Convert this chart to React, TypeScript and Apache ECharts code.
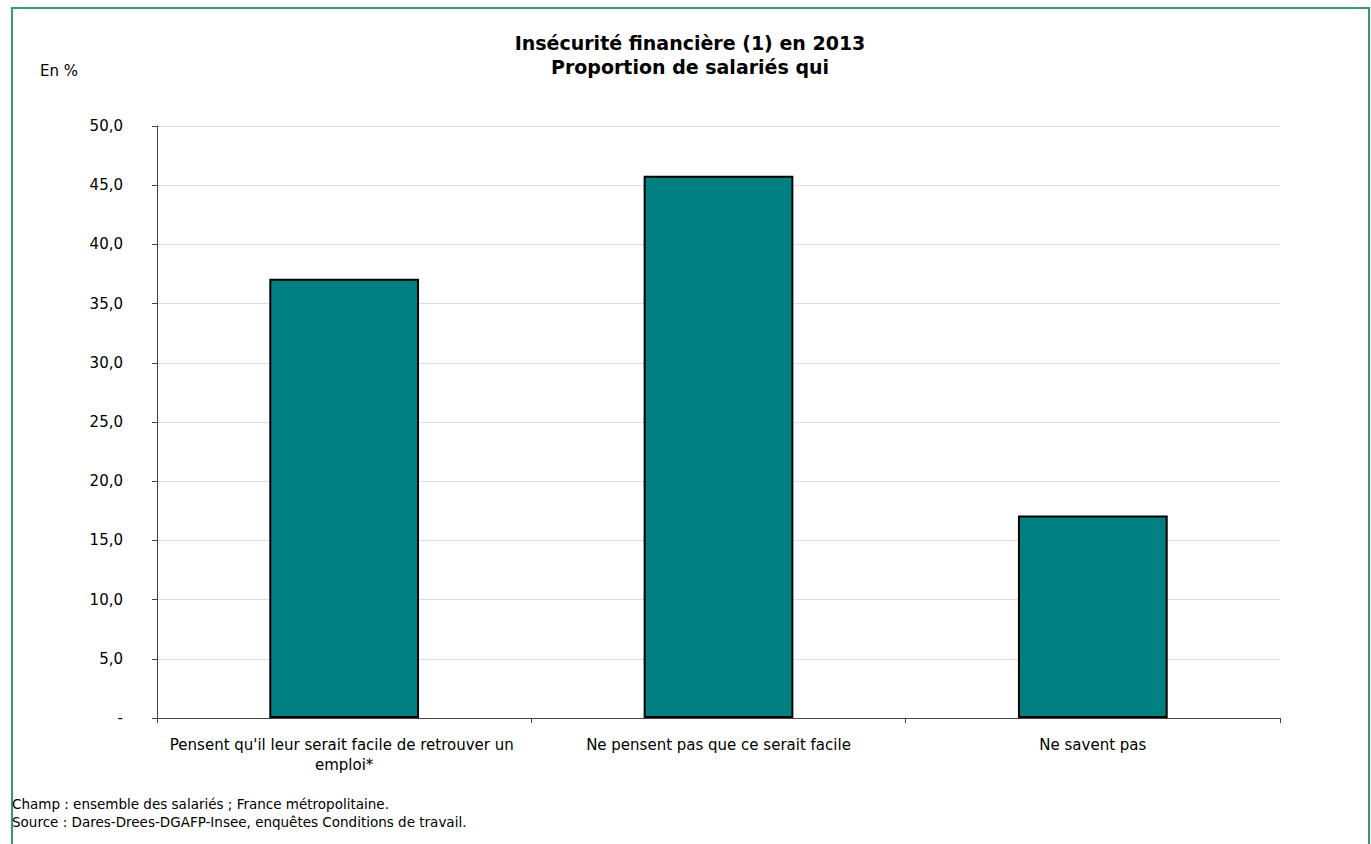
import React, { useEffect, useRef } from "react";
import * as echarts from "echarts";

const categories = [
  "Pensent qu'il leur serait facile de retrouver un emploi*",
  "Ne pensent pas que ce serait facile",
  "Ne savent pas",
];
const values = [37.1, 45.8, 17.1];
const titleLines = ["Insécurité financière (1) en 2013", "Proportion de salariés qui"];
const unitLabel = "En %";
const footnotes = [
  "Champ : ensemble des salariés ; France métropolitaine.",
  "Source : Dares-Drees-DGAFP-Insee, enquêtes Conditions de travail.",
];

const FONT = "DejaVu Sans, Verdana, sans-serif";

export default function App() {
  const ref = useRef<HTMLDivElement>(null);
  useEffect(() => {
    if (!ref.current) return;
    const chart = echarts.init(ref.current, null, { renderer: "svg" });
    chart.setOption({
      animation: false,
      backgroundColor: "#ffffff",
      textStyle: { fontFamily: FONT },
      title: {
        text: titleLines.join("\n"),
        left: 685,
        top: 26,
        textAlign: "center",
        textStyle: {
          fontFamily: FONT,
          fontSize: 19,
          fontWeight: "bold",
          color: "#000",
          lineHeight: 24,
        },
      },
      grid: { left: 157, right: 91, top: 126, bottom: 126, containLabel: false },
      xAxis: {
        type: "category",
        data: categories,
        axisLine: { lineStyle: { color: "#444", width: 1 } },
        axisTick: { show: true, alignWithLabel: false, length: 5, lineStyle: { color: "#444" } },
        axisLabel: {
          fontFamily: FONT,
          fontSize: 15,
          color: "#000",
          margin: 17,
          width: 372,
          overflow: "break",
          lineHeight: 20,
          interval: 0,
        },
      },
      yAxis: {
        type: "value",
        min: 0,
        max: 50,
        interval: 5,
        axisLine: { show: true, lineStyle: { color: "#444", width: 1 } },
        axisTick: { show: true, length: 5, lineStyle: { color: "#444" } },
        splitLine: { show: true, lineStyle: { color: "#dddddd", width: 1 } },
        axisLabel: {
          fontFamily: FONT,
          fontSize: 15,
          color: "#000",
          margin: 34,
          formatter: (v: number) => (v === 0 ? "-" : v.toFixed(1).replace(".", ",")),
        },
      },
      series: [
        {
          type: "bar",
          data: values,
          barWidth: "40%",
          itemStyle: { color: "#008080", borderColor: "#000", borderWidth: 2 },
        },
      ],
      graphic: [
        {
          type: "polyline",
          shape: { points: [[12, 850], [12, 8], [1369, 8], [1369, 850]] },
          style: { stroke: "#3a9a6a", lineWidth: 2, fill: "none" },
        },
        {
          type: "text",
          left: 40,
          top: 63,
          style: { text: unitLabel, font: `15px ${FONT}`, fill: "#000" },
        },
        {
          type: "text",
          left: 12,
          top: 795,
          style: {
            text: footnotes.join("\n"),
            font: `13.5px ${FONT}`,
            fill: "#000",
            lineHeight: 18,
          },
        },
      ],
    });
    return () => chart.dispose();
  }, []);
  return (
    <div
      ref={ref}
      style={{ position: "absolute", left: 0, top: 0, width: 1371, height: 844 }}
    />
  );
}
